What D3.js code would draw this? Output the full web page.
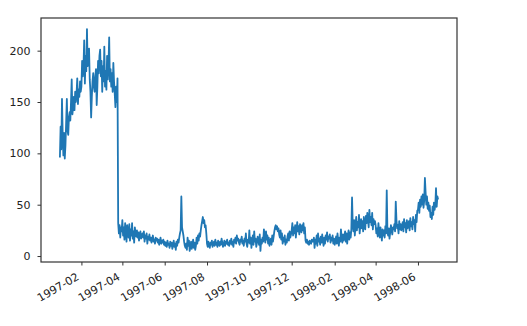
<!DOCTYPE html>
<html>
<head>
<meta charset="utf-8">
<script src="https://cdnjs.cloudflare.com/ajax/libs/d3/7.8.5/d3.min.js"></script>
<style>
  body { margin: 0; background: #fff; }
  .axis text { font-family: "DejaVu Sans", sans-serif; font-size: 11px; fill: #222; }
  .axis line, .axis path { stroke: #333; }
</style>
</head>
<body>
<svg id="viz"></svg>
<script>
// daily counts, 1997-01-01 .. 1998-06-30, one array per month
const startDate = '1997-01-01';
const jan97 = [96, 126, 104, 153, 118, 98, 120, 95, 108, 130, 153, 122, 118, 135, 140, 132, 150, 172, 138, 145, 155, 142, 160, 150, 158, 173, 148, 162, 155, 170, 160];
const feb97 = [165, 190, 175, 185, 210, 168, 195, 180, 221, 185, 200, 202, 172, 160, 135, 155, 170, 178, 165, 160, 175, 182, 147, 165, 190, 178, 195, 201];
const mar97 = [175, 190, 160, 185, 170, 204, 165, 180, 162, 195, 172, 185, 213, 170, 182, 165, 178, 160, 188, 170, 158, 145, 165, 150, 173, 32, 22, 30, 18, 28, 24];
const apr97 = [35, 20, 28, 16, 32, 25, 14, 30, 22, 18, 31, 15, 26, 20, 32, 17, 24, 13, 28, 22, 19, 25, 18, 23, 15, 21, 24, 17, 20, 22];
const may97 = [18, 24, 14, 20, 17, 22, 12, 19, 16, 21, 15, 18, 13, 17, 20, 14, 16, 12, 18, 15, 17, 13, 16, 11, 14, 18, 12, 15, 13, 16, 11];
const jun97 = [14, 10, 13, 9, 15, 11, 12, 8, 14, 10, 13, 7, 11, 15, 9, 12, 6, 14, 10, 16, 13, 18, 22, 25, 58, 28, 24, 20, 14, 10];
const jul97 = [8, 12, 6, 18, 10, 15, 5, 9, 14, 7, 11, 16, 8, 13, 6, 10, 18, 12, 20, 15, 22, 19, 25, 30, 34, 38, 32, 35, 28, 30, 22];
const aug97 = [12, 9, 14, 10, 8, 13, 11, 15, 9, 12, 14, 10, 16, 11, 13, 9, 15, 12, 10, 14, 11, 17, 13, 9, 12, 15, 10, 14, 12, 16, 11];
const sep97 = [13, 10, 15, 12, 17, 11, 14, 9, 16, 13, 18, 12, 20, 15, 17, 13, 11, 16, 14, 19, 12, 15, 10, 17, 14, 22, 12, 9, 16, 13];
const oct97 = [25, 12, 18, 8, 15, 20, 11, 24, 14, 17, 9, 13, 19, 15, 11, 21, 5, 16, 12, 18, 14, 26, 19, 13, 24, 16, 20, 12, 18, 10, 14];
const nov97 = [17, 11, 20, 14, 19, 24, 28, 30, 26, 29, 24, 27, 21, 18, 25, 16, 22, 12, 18, 14, 20, 11, 16, 13, 19, 22, 15, 24, 18, 21];
const dec97 = [25, 32, 20, 28, 22, 30, 18, 26, 33, 24, 29, 21, 31, 27, 23, 30, 25, 32, 22, 28, 15, 13, 16, 12, 14, 11, 15, 13, 12, 16, 14];
const jan98 = [14, 18, 8, 16, 12, 20, 10, 22, 14, 17, 11, 19, 13, 21, 15, 10, 18, 12, 20, 16, 23, 14, 19, 17, 21, 13, 18, 15, 20, 12, 17];
const feb98 = [11, 15, 19, 12, 22, 16, 10, 18, 14, 26, 17, 13, 21, 15, 19, 24, 14, 22, 12, 20, 25, 16, 23, 18, 26, 57, 30, 24];
const mar98 = [35, 20, 30, 38, 25, 33, 28, 40, 22, 31, 36, 27, 34, 24, 38, 30, 26, 39, 32, 42, 35, 28, 45, 33, 38, 30, 42, 26, 36, 31, 34];
const apr98 = [30, 22, 27, 19, 32, 24, 18, 28, 21, 15, 26, 20, 25, 18, 29, 22, 64, 24, 20, 27, 17, 23, 30, 25, 21, 28, 26, 31, 24, 53];
const may98 = [35, 27, 30, 22, 34, 26, 31, 25, 29, 33, 24, 36, 28, 32, 23, 35, 27, 30, 34, 25, 37, 29, 33, 26, 38, 31, 35, 24, 40, 33, 44];
const jun98 = [45, 52, 42, 55, 48, 58, 50, 60, 47, 54, 76, 62, 50, 58, 46, 52, 44, 49, 38, 42, 36, 48, 40, 52, 45, 50, 66, 48, 58, 55];

const xTickLabels = ['1997-02', '1997-04', '1997-06', '1997-08', '1997-10', '1997-12', '1998-02', '1998-04', '1998-06'];
const yTickValues = [0, 50, 100, 150, 200];

// ----------------------- SETTINGS
const W = 527, H = 326;
const margin = { top: 18, right: 70, bottom: 64, left: 41 };
const width = W - margin.left - margin.right,
      height = H - margin.top - margin.bottom;

const parseDay = d3.utcParse('%Y-%m-%d');
const parseMonth = d3.utcParse('%Y-%m');

const values = [].concat(jan97, feb97, mar97, apr97, may97, jun97, jul97, aug97, sep97,
  oct97, nov97, dec97, jan98, feb98, mar98, apr98, may98, jun98);
const t0 = parseDay(startDate);
const data = values.map((v, i) => ({ date: d3.utcDay.offset(t0, i), value: v }));

// matplotlib style 5% margins
const xExt = d3.extent(data, d => d.date);
const xPad = (xExt[1] - xExt[0]) * 0.05;
const yExt = d3.extent(data, d => d.value);
const yPad = (yExt[1] - yExt[0]) * 0.05;

const x = d3.scaleUtc()
  .domain([new Date(+xExt[0] - xPad), new Date(+xExt[1] + xPad)])
  .range([0, width]);

const y = d3.scaleLinear()
  .domain([yExt[0] - yPad, yExt[1] + yPad])
  .range([height, 0]);

const svg = d3.select('#viz')
  .attr('width', W)
  .attr('height', H);

const chart = svg.append('g')
  .attr('transform', `translate(${margin.left}, ${margin.top})`);

// line
const line = d3.line()
  .x(d => x(d.date))
  .y(d => y(d.value));

chart.append('path')
  .datum(data)
  .attr('fill', 'none')
  .attr('stroke', '#1f77b4')
  .attr('stroke-width', 1.8)
  .attr('stroke-linejoin', 'round')
  .attr('d', line);

// axis x
const xAxis = d3.axisBottom(x)
  .tickValues(xTickLabels.map(parseMonth))
  .tickFormat(d3.utcFormat('%Y-%m'))
  .tickSizeInner(3.5)
  .tickSizeOuter(0);

const gx = chart.append('g')
  .attr('class', 'x axis')
  .attr('transform', `translate(0, ${height})`)
  .call(xAxis);
gx.select('.domain').remove();
gx.selectAll('text')
  .attr('dy', null)
  .attr('y', null)
  .style('text-anchor', 'end')
  .attr('transform', 'translate(-2, 17) rotate(-30)');

// axis y
const yAxis = d3.axisLeft(y)
  .tickValues(yTickValues)
  .tickSizeInner(3.5)
  .tickSizeOuter(0)
  .tickPadding(7);

const gy = chart.append('g')
  .attr('class', 'y axis')
  .call(yAxis);
gy.select('.domain').remove();

// frame
chart.append('rect')
  .attr('x', 0)
  .attr('y', 0)
  .attr('width', width)
  .attr('height', height)
  .attr('fill', 'none')
  .attr('stroke', '#333')
  .attr('stroke-width', 1.2);
</script>
</body>
</html>
